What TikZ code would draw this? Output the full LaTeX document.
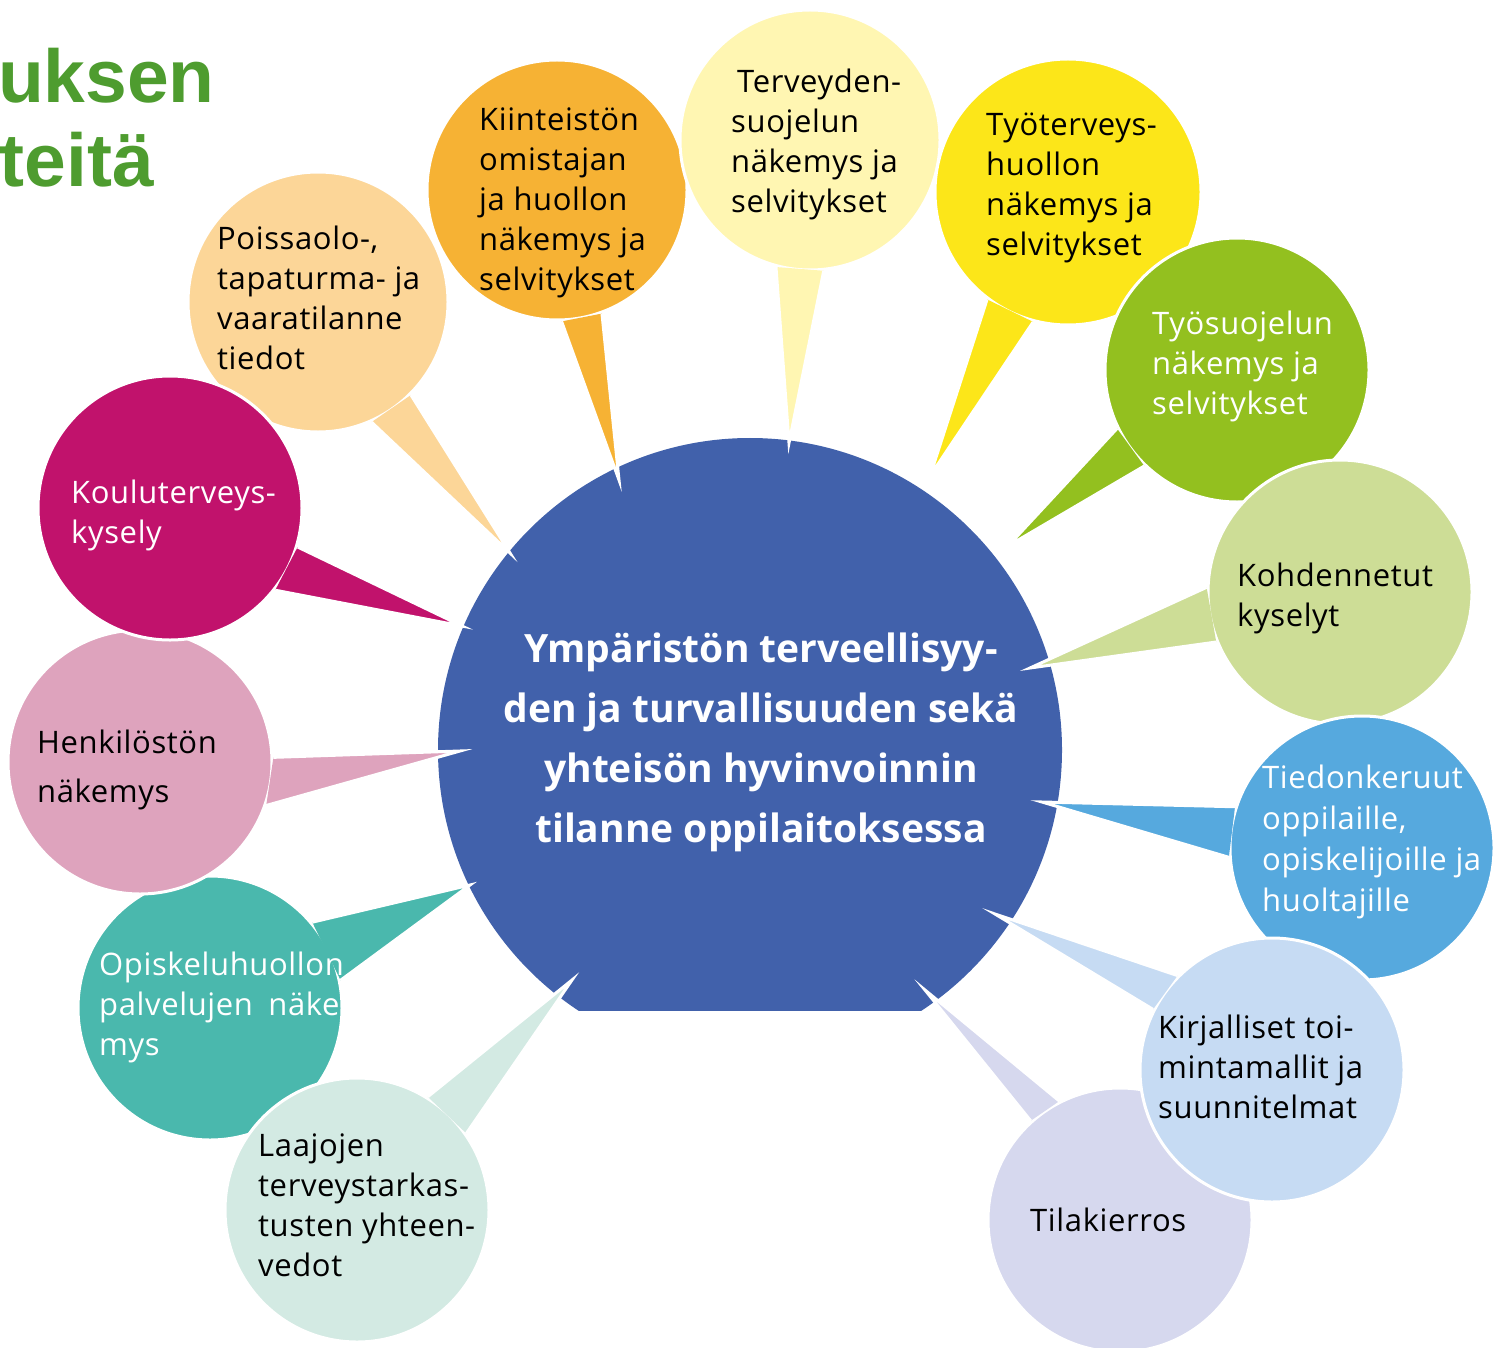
\documentclass[tikz,border=0pt]{standalone}
\usepackage{fontspec}
\setmainfont{Open Sans}[LetterSpace=2]
\newfontfamily\hubfont{Open Sans}
\newfontfamily\titlefont{Liberation Sans}

\definecolor{hubblue}{HTML}{4161AB}
\definecolor{titlegreen}{HTML}{4E9C2F}
\definecolor{cPois}{HTML}{FCD698}
\definecolor{cKiin}{HTML}{F6B234}
\definecolor{cTerv}{HTML}{FFF6B2}
\definecolor{cTyot}{HTML}{FCE619}
\definecolor{cTyos}{HTML}{93C01F}
\definecolor{cKohd}{HTML}{CDDD96}
\definecolor{cTied}{HTML}{56A9DE}
\definecolor{cKirj}{HTML}{C6DBF3}
\definecolor{cTila}{HTML}{D6D8EE}
\definecolor{cLaaj}{HTML}{D3EAE3}
\definecolor{cOphu}{HTML}{4AB8AD}
\definecolor{cHenk}{HTML}{DEA3BD}
\definecolor{cKoul}{HTML}{C1126C}

\begin{document}
\begin{tikzpicture}[x=1bp, y=-1bp,
    bubble/.style={circle, minimum size=264bp, inner sep=0pt, draw=white, line width=3bp},
    tail/.style={draw=white, line width=3bp, line join=miter},
    txt/.style={anchor=north west, inner sep=0pt, align=left,
                font=\fontsize{31bp}{40bp}\selectfont},
    hubtxt/.style={anchor=north, inner sep=0pt, align=center, text=white,
                font=\hubfont\fontsize{39bp}{60bp}\selectfont\bfseries},
    titletxt/.style={anchor=base east, inner sep=0pt, text=titlegreen,
                font=\titlefont\fontsize{75bp}{75bp}\selectfont\bfseries}]

    \useasboundingbox (0,0) rectangle (1504,1348);
    \clip (0,0) rectangle (1504,1348);

    % Title
    \node[titletxt] (ttl1) at (215,103) {uksen};
    \node[titletxt] (ttl2) at (154,187) {teitä};

    % Hub
    \begin{scope}
        \clip (0,0) rectangle (1504,1010);
        \node[circle, fill=hubblue, minimum size=624bp, inner sep=0pt] (hub) at (750,750) {};
    \end{scope}
    \node[hubtxt] (hub-t) at (761,620) {\strut Ympäristön terveellisyy-\\den ja turvallisuuden sekä\\yhteisön hyvinvoinnin\\tilanne oppilaitoksessa};

    % Tail tips
    \coordinate (ophu-tip) at (470,885);
    \coordinate (laaj-tip) at (572,980);
    \coordinate (henk-tip) at (460,751);
    \coordinate (pois-tip) at (510,553);
    \coordinate (koul-tip) at (462,626);
    \coordinate (kiin-tip) at (619,480);
    \coordinate (terv-tip) at (789,443);
    \coordinate (tyot-tip) at (930,476);
    \coordinate (tyos-tip) at (1008,546);
    \coordinate (kohd-tip) at (1030,668);
    \coordinate (tied-tip) at (1042,802);
    \coordinate (kirj-tip) at (995,914);
    \coordinate (tila-tip) at (925,990);

    % Bubbles
    \node[bubble, fill=cOphu] (ophu) at (210,1008) {};
    \fill[cOphu, tail] (ophu.12) -- (ophu-tip) -- (ophu.40);
    \node[txt, text=white] (ophu-t) at (99,947) {\strut Opiskeluhuollon\\palvelujen\enspace näke-\\mys};

    \node[bubble, fill=cLaaj] (laaj) at (357,1210) {};
    \fill[cLaaj, tail] (laaj.35) -- (laaj-tip) -- (laaj.58);
    \node[txt] (laaj-t) at (258,1128) {\strut Laajojen\\terveystarkas-\\tusten yhteen-\\vedot};

    \node[bubble, fill=cHenk] (henk) at (140,762) {};
    \fill[cHenk, tail] (henk.-19) -- (henk-tip) -- (henk.2);
    \node[txt, font=\fontsize{31bp}{49bp}\selectfont] (henk-t) at (37,719) {\strut Henkilöstön\\näkemys};

    \node[bubble, fill=cPois, minimum size=260bp] (pois) at (318,302) {};
    \fill[cPois, tail] (pois.-45) -- (pois-tip) -- (pois.-66);
    \node[txt] (pois-t) at (217,221) {\strut Poissaolo-,\\tapaturma- ja\\vaaratilanne\\tiedot};

    \node[bubble, fill=cKoul] (koul) at (170,508) {};
    \fill[cKoul, tail] (koul.-17) -- (koul-tip) -- (koul.-38);
    \node[txt, text=white] (koul-t) at (71,475) {\strut Kouluterveys-\\kysely};

    \node[bubble, fill=cKiin, minimum size=260bp] (kiin) at (557,190) {};
    \fill[cKiin, tail] (kiin.-70) -- (kiin-tip) -- (kiin.-88);
    \node[txt] (kiin-t) at (479,102) {\strut Kiinteistön\\omistajan\\ja huollon\\näkemys ja\\selvitykset};

    \node[bubble, fill=cTerv, minimum size=260bp] (terv) at (810,140) {};
    \fill[cTerv, tail] (terv.-84) -- (terv-tip) -- (terv.-105);
    \node[txt] (terv-t) at (731,64) {\strut\hspace*{6bp}Terveyden-\\suojelun\\näkemys ja\\selvitykset};

    \node[bubble, fill=cTyot, minimum size=266bp] (tyot) at (1068,192) {};
    \fill[cTyot, tail] (tyot.-105) -- (tyot-tip) -- (tyot.-127);
    \node[txt] (tyot-t) at (986,107) {\strut Työterveys-\\huollon\\näkemys ja\\selvitykset};

    \node[bubble, fill=cTyos] (tyos) at (1237,370) {};
    \fill[cTyos, tail] (tyos.-134) -- (tyos-tip) -- (tyos.-154);
    \node[txt, text=white] (tyos-t) at (1152,306) {\strut Työsuojelun\\näkemys ja\\selvitykset};

    \node[bubble, fill=cKohd] (kohd) at (1340,592) {};
    \fill[cKohd, tail] (kohd.178) -- (kohd-tip) -- (kohd.-158);
    \node[txt] (kohd-t) at (1237,558) {\strut Kohdennetut\\kyselyt};

    \node[bubble, fill=cTied] (tied) at (1362,848) {};
    \fill[cTied, tail] (tied.162) -- (tied-tip) -- (tied.184);
    \node[txt, text=white, font=\fontsize{31bp}{41bp}\selectfont] (tied-t) at (1262,760) {\strut Tiedonkeruut\\oppilaille,\\opiskelijoille ja\\huoltajille};

    \node[bubble, fill=cTila] (tila) at (1120,1220) {};
    \fill[cTila, tail] (tila.117) -- (tila-tip) -- (tila.132);
    \node[txt] (tila-t) at (1030,1203) {\strut Tilakierros};

    \node[bubble, fill=cKirj] (kirj) at (1272,1070) {};
    \fill[cKirj, tail] (kirj.135) -- (kirj-tip) -- (kirj.153);
    \node[txt] (kirj-t) at (1158,1010) {\strut Kirjalliset toi-\\mintamallit ja\\suunnitelmat};

\end{tikzpicture}
\end{document}
